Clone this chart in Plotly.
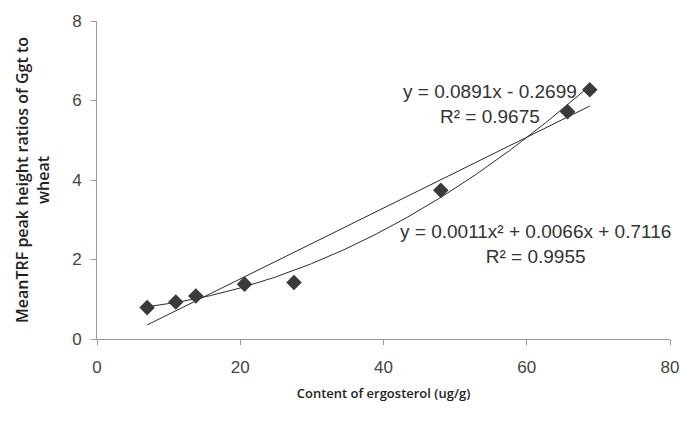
import numpy as np
import plotly.graph_objects as go

# Data
ergosterol = [7.0, 11.0, 13.8, 20.6, 27.5, 48.0, 65.7, 68.8]
ratio = [0.79, 0.93, 1.08, 1.38, 1.42, 3.74, 5.72, 6.27]

# Trendline coefficients as printed on the chart
linear_coef = [0.0891, -0.2699]
quad_coef = [0.0011, 0.0066, 0.7116]

eq_linear = "y = 0.0891x - 0.2699<br>R² = 0.9675"
eq_quad = "y = 0.0011x² + 0.0066x + 0.7116<br>R² = 0.9955"

x_fit = np.linspace(min(ergosterol), max(ergosterol), 200)
y_lin = np.polyval(linear_coef, x_fit)
y_quad = np.polyval(quad_coef, x_fit)

fig = go.Figure()
fig.add_trace(go.Scatter(x=x_fit, y=y_lin, mode="lines",
                         line=dict(color="#2b2b2b", width=1), showlegend=False))
fig.add_trace(go.Scatter(x=x_fit, y=y_quad, mode="lines",
                         line=dict(color="#2b2b2b", width=1), showlegend=False))
fig.add_trace(go.Scatter(x=ergosterol, y=ratio, mode="markers",
                         marker=dict(symbol="diamond", size=12, color="#3a3a3a"),
                         showlegend=False))

eq_font = dict(family="Liberation Sans, Arial", size=19, color="#333333")
fig.add_annotation(x=54.8, y=5.90, xref="x", yref="y", text=eq_linear, showarrow=False,
                   font=eq_font, align="center")
fig.add_annotation(x=61.2, y=2.38, xref="x", yref="y", text=eq_quad, showarrow=False,
                   font=eq_font, align="center")

tick_font = dict(family="Liberation Sans, Arial", size=17, color="#444444")
title_font_x = dict(family="Open Sans", size=13, color="#222222", weight=600)
title_font_y = dict(family="Open Sans", size=16, color="#222222", weight=600)

fig.update_layout(
    width=691, height=421,
    margin=dict(l=97, r=12, t=20, b=82),
    paper_bgcolor="white", plot_bgcolor="white",
    xaxis=dict(range=[0, 80], dtick=20, showgrid=False, zeroline=False,
               showline=True, linecolor="#9a9a9a", linewidth=1,
               ticks="outside", ticklen=5, tickcolor="#9a9a9a",
               tickfont=tick_font, ticklabelstandoff=8,
               title=dict(text="Content of ergosterol (ug/g)", standoff=12,
                          font=title_font_x)),
    yaxis=dict(range=[0, 8], dtick=2, showgrid=False, zeroline=False,
               showline=True, linecolor="#9a9a9a", linewidth=1,
               ticks="outside", ticklen=5, tickcolor="#9a9a9a",
               tickfont=tick_font, ticklabelstandoff=6,
               title=dict(text="MeanTRF peak height ratios of Ggt to<br>wheat", standoff=18,
                          font=title_font_y)),
)

fig.write_html("out.html")
